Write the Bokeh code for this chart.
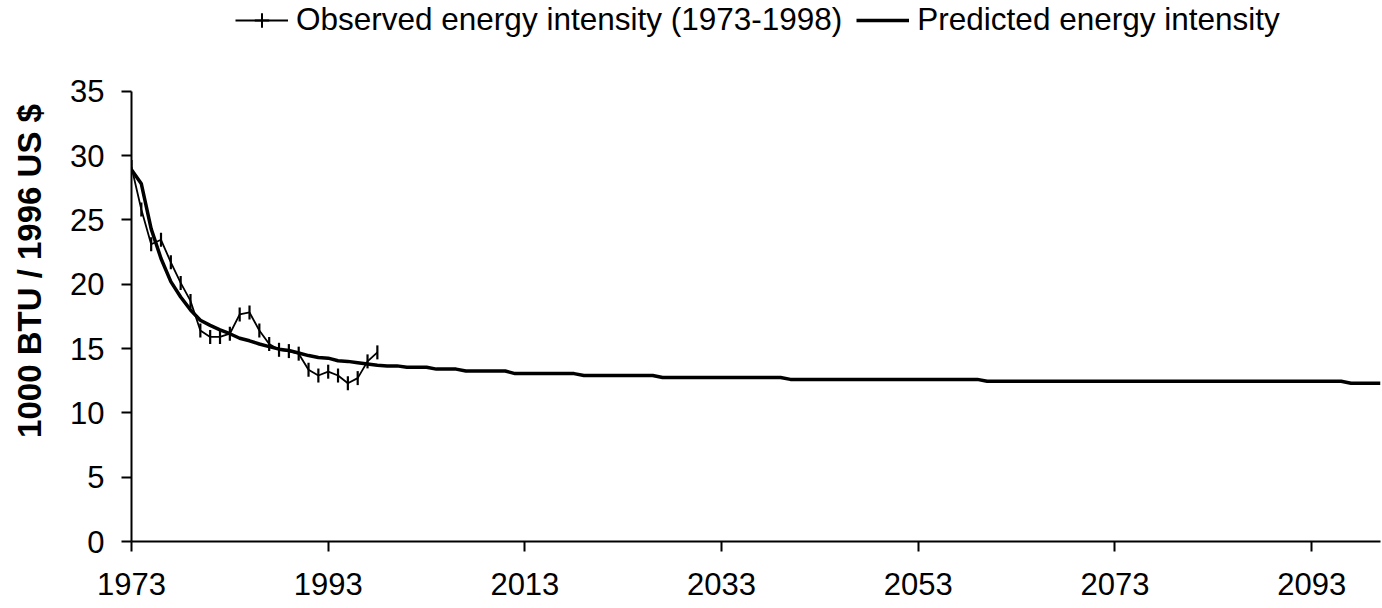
import math
from bokeh.plotting import figure
from bokeh.models import Range1d, FixedTicker, Legend, LegendItem, ColumnDataSource
from bokeh.embed import file_html
from bokeh.resources import INLINE

# ---- data -------------------------------------------------------------
obs_years = list(range(1973, 1999))
obs_values = [29.1, 25.8, 23.1, 23.45, 21.7, 20.1, 18.7, 16.4, 15.9, 15.9,
              16.15, 17.65, 17.8, 16.4, 15.35, 14.9, 14.8, 14.6, 13.35, 12.9,
              13.2, 12.9, 12.3, 12.7, 14.0, 14.7]

pred_years = list(range(1973, 2101))
pred_values = [
    28.9, 27.8, 24.3, 22.0, 20.2, 19.0, 18.0, 17.2, 16.8, 16.45,   # 1973-1982
    16.15, 15.8, 15.6, 15.35, 15.15, 14.95, 14.85, 14.65, 14.45, 14.3,  # 1983-1992
    14.25, 14.05, 14.0, 13.9, 13.8, 13.7, 13.65, 13.65, 13.55, 13.55,  # 1993-2002
    13.55, 13.4, 13.4, 13.4, 13.25, 13.25, 13.25, 13.25, 13.25, 13.05,  # 2003-2012
    13.05, 13.05, 13.05, 13.05, 13.05, 13.05, 12.9, 12.9, 12.9, 12.9,  # 2013-2022
    12.9, 12.9, 12.9, 12.9, 12.75, 12.75, 12.75, 12.75, 12.75, 12.75,  # 2023-2032
    12.75, 12.75, 12.75, 12.75, 12.75, 12.75, 12.75, 12.6, 12.6, 12.6,  # 2033-2042
    12.6, 12.6, 12.6, 12.6, 12.6, 12.6, 12.6, 12.6, 12.6, 12.6,  # 2043-2052
    12.6, 12.6, 12.6, 12.6, 12.6, 12.6, 12.6, 12.45, 12.45, 12.45,  # 2053-2062
    12.45, 12.45, 12.45, 12.45, 12.45, 12.45, 12.45, 12.45, 12.45, 12.45,  # 2063-2072
    12.45, 12.45, 12.45, 12.45, 12.45, 12.45, 12.45, 12.45, 12.45, 12.45,  # 2073-2082
    12.45, 12.45, 12.45, 12.45, 12.45, 12.45, 12.45, 12.45, 12.45, 12.45,  # 2083-2092
    12.45, 12.45, 12.45, 12.45, 12.3, 12.3, 12.3, 12.3,  # 2093-2100
]

x_ticks = [1973, 1993, 2013, 2033, 2053, 2073, 2093]
y_ticks = [0, 5, 10, 15, 20, 25, 30, 35]

FONT = "Liberation Sans"
FS = "31px"

# ---- figure -----------------------------------------------------------
# The frame reaches the top of the canvas so the legend (drawn inside it)
# is not clipped; the y axis itself is bounded to 0..35.
p = figure(width=1382, height=608, output_backend="svg", toolbar_location=None,
           x_range=Range1d(1973, 2100), y_range=Range1d(0, 42.05),
           min_border_left=131, min_border_right=2, min_border_top=0,
           min_border_bottom=67)
p.outline_line_color = None
p.xgrid.grid_line_color = None
p.ygrid.grid_line_color = None
p.background_fill_color = "white"
p.border_fill_color = "white"

obs_src = ColumnDataSource(dict(x=obs_years, y=obs_values))
pred_src = ColumnDataSource(dict(x=pred_years, y=pred_values))

obs_line = p.line("x", "y", source=obs_src, line_color="black", line_width=1.8)
obs_pts = p.scatter("x", "y", source=obs_src, marker="dash", angle=math.pi / 2,
                    size=14, line_color="black", line_width=2.2)
pred_line = p.line("x", "y", source=pred_src, line_color="black", line_width=3.5)

# legend-only key marker: hidden in the plot, a cross over the thin legend line
obs_key = p.scatter("x", "y", source=obs_src, marker="cross", size=14,
                    line_color="black", line_width=2, visible=False)

for ax in (p.xaxis[0], p.yaxis[0]):
    ax.axis_line_width = 2
    ax.axis_line_color = "black"
    ax.major_tick_line_width = 2
    ax.major_tick_line_color = "black"
    ax.major_tick_in = 0
    ax.major_tick_out = 10
    ax.minor_tick_line_color = None
    ax.major_label_text_font = FONT
    ax.major_label_text_font_size = FS
    ax.major_label_text_color = "black"

p.xaxis[0].ticker = FixedTicker(ticks=x_ticks)
p.xaxis[0].major_label_standoff = 21
p.yaxis[0].ticker = FixedTicker(ticks=y_ticks)
p.yaxis[0].bounds = (0, 35)
p.yaxis[0].major_label_standoff = 17
p.yaxis[0].axis_label = "1000 BTU / 1996 US $"
p.yaxis[0].axis_label_text_font = FONT
p.yaxis[0].axis_label_text_font_size = "33px"
p.yaxis[0].axis_label_text_font_style = "bold"
p.yaxis[0].axis_label_text_color = "black"
p.yaxis[0].axis_label_standoff = 19

legend = Legend(items=[
    LegendItem(label="Observed energy intensity (1973-1998)", renderers=[obs_line, obs_key]),
    LegendItem(label="Predicted energy intensity", renderers=[pred_line]),
], orientation="horizontal", location=(104, 503))
legend.label_text_font = FONT
legend.label_text_font_size = "31.5px"
legend.label_text_color = "black"
legend.glyph_width = 53
legend.glyph_height = 36
legend.label_height = 36
legend.label_standoff = 8
legend.spacing = 14
legend.padding = 0
legend.margin = 0
legend.border_line_color = None
legend.background_fill_alpha = 0
p.add_layout(legend)

open("out.html", "w").write(file_html(p, INLINE))
